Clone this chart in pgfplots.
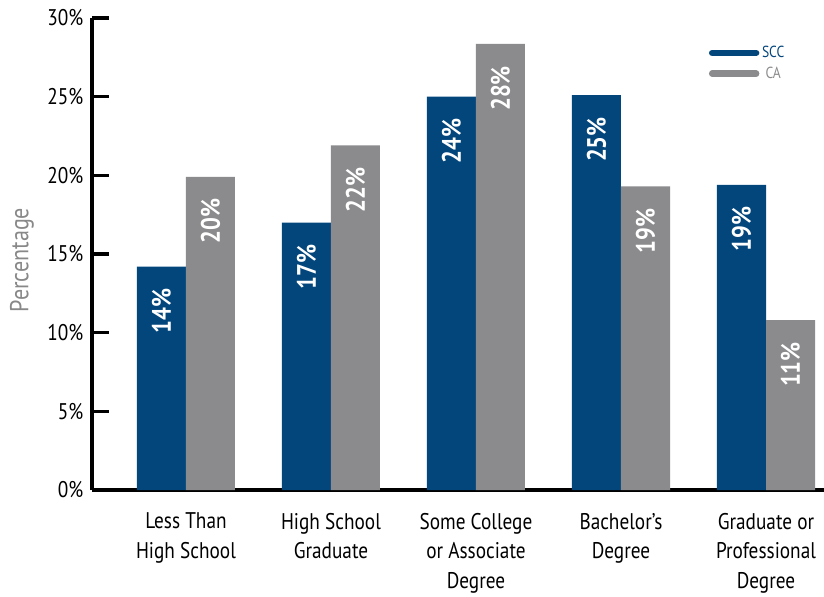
\documentclass[border=0pt]{standalone}
\usepackage{pgfplots}
\pgfplotsset{compat=1.18}
\usepackage{fontspec}
\setmainfont[FakeStretch=0.85]{PT Sans}
\definecolor{scc}{HTML}{03467C}
\definecolor{ca}{HTML}{8B8B8D}
\definecolor{lab}{HTML}{888888}
\begin{document}
\begin{tikzpicture}
\useasboundingbox (-69pt,-79.5pt) rectangle (549pt,367.5pt);
\begin{axis}[
  scale only axis, width=549pt, height=354pt,
  at={(0,0)}, anchor=south west,
  xmin=-0.648, xmax=4.4, ymin=0, ymax=30,
  axis x line*=bottom, axis y line*=left,
  axis line style={line width=2.3pt, black},
  ytick={0,5,...,30},
  yticklabel={\pgfmathprintnumber{\tick}\%},
  /pgf/number format/assume math mode=true,
  tick align=inside,
  major tick length=12.75pt,
  ytick style={line width=2.3pt, black},
  xtick={0,...,4},
  x tick style={draw=none},
  xticklabels={Less Than\\High School, High School\\Graduate, Some College\\or Associate\\Degree, Bachelor’s\\Degree, Graduate or\\Professional\\Degree},
  xticklabel style={align=center, font=\fontsize{17}{22.3}\selectfont, yshift=-1pt},
  yticklabel style={font=\fontsize{17}{19}\selectfont, xshift=-3pt},
  ylabel={Percentage},
  every axis y label/.style={at={(rel axis cs:0,0.487)}, xshift=-52.5pt, rotate=90, anchor=center, font=\fontsize{19.5}{22}\selectfont, text=lab},
  ybar=0pt, bar width=0.338,
  point meta=explicit symbolic,
  nodes near coords,
  every node near coord/.append style={yshift=-13pt, rotate=90, anchor=east, text=white, font=\bfseries\fontsize{20}{20}\selectfont},
  legend style={at={(rel axis cs:0.837,0.952)}, anchor=north west, draw=none, fill=none, font=\fontsize{12}{13}\selectfont, row sep=1.5pt},
]
\addplot[fill=scc, draw=none, legend image code/.code={\draw[scc, line width=4.8pt, line cap=round] (0pt,0pt) -- (33pt,0pt);}] coordinates {
  (0,14.2) [14\%]
  (1,17.0) [17\%]
  (2,25.0) [24\%]
  (3,25.1) [25\%]
  (4,19.4) [19\%]
};
\addlegendentry{\textcolor{scc}{SCC}}
\addplot[fill=ca, draw=none, legend image code/.code={\draw[ca, line width=4.8pt, line cap=round] (0pt,0pt) -- (33pt,0pt);}] coordinates {
  (0,19.9) [20\%]
  (1,21.9) [22\%]
  (2,28.35) [28\%]
  (3,19.3) [19\%]
  (4,10.8) [11\%]
};
\addlegendentry{\textcolor{ca}{CA}}
\end{axis}
\end{tikzpicture}
\end{document}
